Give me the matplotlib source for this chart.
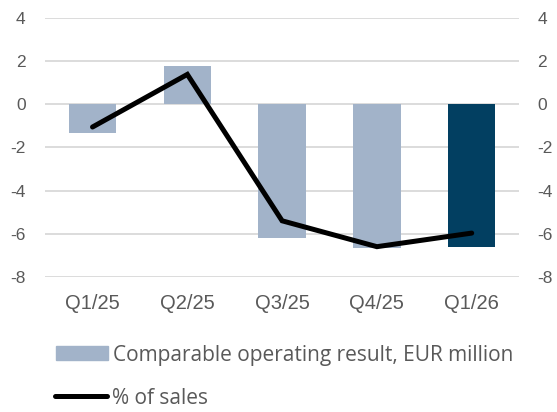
import numpy as np
from matplotlib import pyplot as plt
from matplotlib.patches import Patch
from matplotlib.lines import Line2D

plt.rcParams['font.family'] = ['Liberation Sans', 'DejaVu Sans']
plt.rcParams['axes.unicode_minus'] = False

quarters = ["Q1/25", "Q2/25", "Q3/25", "Q4/25", "Q1/26"]
op_result = [-1.33, 1.79, -6.19, -6.65, -6.6]
pct_sales = [-1.05, 1.39, -5.4, -6.6, -5.97]
bar_colors = ["#a2b3c9", "#a2b3c9", "#a2b3c9", "#a2b3c9", "#023f61"]

fig = plt.figure(figsize=(5.57, 4.12), dpi=100)
ax = fig.add_axes([0.081, 0.328, 0.851, 0.628])
x = np.arange(len(quarters))

ax.bar(x, op_result, width=0.5, color=bar_colors, zorder=2)
ax.plot(x, pct_sales, color="black", linewidth=3.6, solid_capstyle="round",
        solid_joinstyle="miter", zorder=3)

ax.set_ylim(-8, 4)
ax.set_xlim(-0.5, 4.5)
ax.set_yticks(range(-8, 5, 2))
ax.set_xticks(x)
ax.set_xticklabels(quarters)
ax.grid(axis="y", color="#d9d9d9", linewidth=1.3, zorder=0)
for s in ax.spines.values():
    s.set_visible(False)
ax.tick_params(axis="y", length=0, labelsize=12.5, labelcolor="#595959", pad=14)
ax.tick_params(axis="x", length=0, labelsize=14.5, labelcolor="#595959", pad=12)

ax2 = ax.twinx()
ax2.set_ylim(-8, 4)
ax2.set_yticks(range(-8, 5, 2))
for s in ax2.spines.values():
    s.set_visible(False)
ax2.tick_params(length=0, labelsize=12.5, labelcolor="#595959", pad=13)

# legend: two rows placed separately
leg_font = {"family": "Open Sans", "size": 15}
fig.legend([Patch(color="#a2b3c9")], ["Comparable operating result, EUR million"],
           loc="center left", bbox_to_anchor=(56 / 557, 1 - 355 / 412), frameon=False,
           prop=leg_font, labelcolor="#595959", handlelength=2.5, handleheight=0.68,
           handletextpad=0.22, borderaxespad=0, borderpad=0)
fig.legend([Line2D([], [], color="black", linewidth=3.6, solid_capstyle="round")], ["% of sales"],
           loc="center left", bbox_to_anchor=(55 / 557, 1 - 398 / 412), frameon=False,
           prop=leg_font, labelcolor="#595959", handlelength=2.5,
           handletextpad=0.22, borderaxespad=0, borderpad=0)

fig.savefig("out.png", dpi=100)
